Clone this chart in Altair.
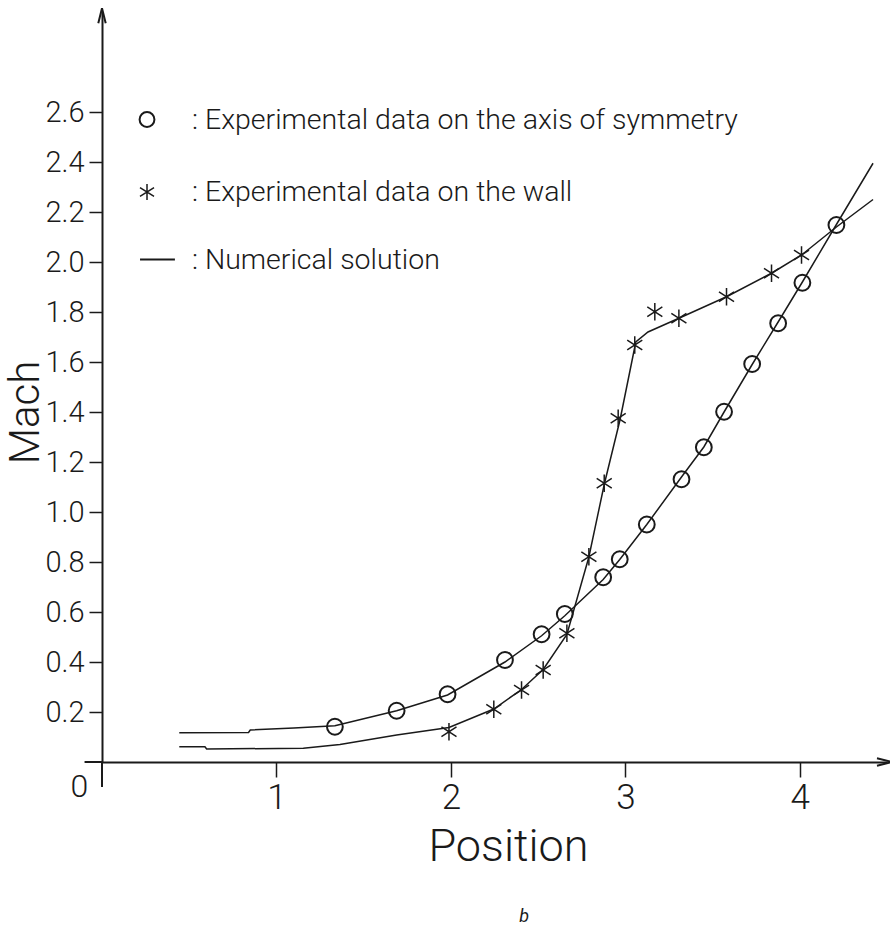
import altair as alt
import pandas as pd

# ---- data ----
axis_x = [1.335, 1.689, 1.981, 2.31, 2.52, 2.653, 2.873, 2.968, 3.123, 3.322, 3.45, 3.566, 3.727, 3.876, 4.015, 4.21]
axis_y = [0.141, 0.205, 0.271, 0.408, 0.511, 0.592, 0.739, 0.811, 0.95, 1.131, 1.259, 1.401, 1.592, 1.755, 1.917, 2.148]

wall_x = [1.989, 2.246, 2.405, 2.529, 2.665, 2.791, 2.879, 2.959, 3.054, 3.169, 3.307, 3.58, 3.838, 4.01]
wall_y = [0.121, 0.211, 0.288, 0.368, 0.515, 0.821, 1.115, 1.375, 1.668, 1.801, 1.775, 1.861, 1.955, 2.028]

num_axis_x = [0.443, 0.84, 0.85, 1.10, 1.335, 1.689, 1.981, 2.31, 2.52, 2.653, 2.873, 2.968, 3.123, 3.322, 3.45, 3.566, 3.727, 3.876, 4.015, 4.21, 4.42]
num_axis_y = [0.117, 0.118, 0.128, 0.136, 0.145, 0.205, 0.268, 0.40, 0.505, 0.585, 0.73, 0.81, 0.95, 1.14, 1.26, 1.40, 1.59, 1.76, 1.92, 2.15, 2.395]

num_wall_x = [0.443, 0.59, 0.60, 1.154, 1.364, 1.689, 1.989, 2.246, 2.405, 2.529, 2.665, 2.791, 2.879, 2.97, 3.06, 3.13, 3.307, 3.58, 3.838, 4.01, 4.21, 4.42]
num_wall_y = [0.061, 0.061, 0.052, 0.055, 0.07, 0.108, 0.138, 0.212, 0.29, 0.37, 0.51, 0.82, 1.11, 1.37, 1.68, 1.72, 1.775, 1.861, 1.955, 2.028, 2.14, 2.25]

x_ticks = [1, 2, 3, 4]
y_ticks = [0.2, 0.4, 0.6, 0.8, 1.0, 1.2, 1.4, 1.6, 1.8, 2.0, 2.2, 2.4, 2.6]

legend_labels = [": Experimental data on the axis of symmetry",
                 ": Experimental data on the wall",
                 ": Numerical solution"]
legend_rows_y = [2.57, 2.28, 2.01]

FONT = "Roboto, Liberation Sans, sans-serif"
INK = "#1a1a1a"

# ---- tables ----
df_axis = pd.DataFrame({"x": axis_x, "y": axis_y})
df_wall = pd.DataFrame({"x": wall_x, "y": wall_y})
df_num = pd.concat([
    pd.DataFrame({"x": num_axis_x, "y": num_axis_y, "s": "axis", "o": range(len(num_axis_x))}),
    pd.DataFrame({"x": num_wall_x, "y": num_wall_y, "s": "wall", "o": range(len(num_wall_x))}),
])
df_leg_text = pd.DataFrame({"x": [0.516] * 3, "y": legend_rows_y, "label": legend_labels})
df_leg_circle = pd.DataFrame({"x": [0.258], "y": [legend_rows_y[0]]})
df_leg_star = pd.DataFrame({"x": [0.258], "y": [legend_rows_y[1]]})
df_leg_line = pd.DataFrame({"x": [0.218], "x2": [0.418], "y": [legend_rows_y[2]]})
df_origin = pd.DataFrame({"x": [-0.13], "y": [-0.1], "label": ["0"]})
df_b = pd.DataFrame({"x": [2.42], "y": [-0.62], "label": ["b"]})
df_yext = pd.DataFrame({"x": [0.0], "y": [-0.1], "y2": [0.0]})
df_xext = pd.DataFrame({"x": [-0.1], "x2": [0.0], "y": [0.0]})
df_arrow_up = pd.DataFrame({"x": [0.0], "y": [2.985]})
df_arrow_right = pd.DataFrame({"x": [4.485], "y": [0.0]})

xscale = alt.Scale(domain=[0, 4.5], nice=False, zero=False)
yscale = alt.Scale(domain=[0, 3.0], nice=False, zero=False)

X = alt.X("x:Q", scale=xscale, axis=alt.Axis(
    values=x_ticks, format="d", title="Position", grid=False,
    tickSize=15, tickWidth=1.5, tickColor=INK,
    domainColor=INK, domainWidth=2,
    labelFont=FONT, labelFontSize=35, labelFontWeight=300, labelColor=INK, labelPadding=3,
    titleFont=FONT, titleFontSize=45, titleFontWeight=300, titleColor=INK,
    titleX=406, titleY=98, titleAlign="center", titleBaseline="alphabetic"))
Y = alt.Y("y:Q", scale=yscale, axis=alt.Axis(
    values=y_ticks, format=".1f", title="Mach", grid=False,
    tickSize=13, tickWidth=1.5, tickColor=INK,
    domainColor=INK, domainWidth=2,
    labelFont=FONT, labelFontSize=29, labelFontWeight=300, labelColor=INK, labelPadding=5,
    titleFont=FONT, titleFontSize=42, titleFontWeight=300, titleColor=INK,
    titleAngle=270, titleX=-77, titleY=400, titleAlign="center", titleBaseline="middle"))

STAR = "M0,-1L0,1M-0.87,-0.55L0.87,0.55M-0.87,0.55L0.87,-0.55"

lines = alt.Chart(df_num).mark_line(color=INK, strokeWidth=1.5).encode(
    x=X, y=Y, detail="s:N", order="o:Q")
circles = alt.Chart(df_axis).mark_point(shape="circle", filled=False, size=250,
                                        strokeWidth=2, color=INK, opacity=1).encode(x=X, y=Y)
stars = alt.Chart(df_wall).mark_point(shape=STAR, filled=False, size=300,
                                      strokeWidth=1.5, color=INK, opacity=1).encode(x=X, y=Y)

leg_c = alt.Chart(df_leg_circle).mark_point(shape="circle", filled=False, size=220,
                                            strokeWidth=2, color=INK, opacity=1).encode(x=X, y=Y)
leg_s = alt.Chart(df_leg_star).mark_point(shape=STAR, filled=False, size=260,
                                          strokeWidth=1.5, color=INK, opacity=1).encode(x=X, y=Y)
leg_l = alt.Chart(df_leg_line).mark_rule(color=INK, strokeWidth=1.8).encode(x=X, x2="x2:Q", y=Y)
leg_t = alt.Chart(df_leg_text).mark_text(align="left", baseline="middle", font=FONT,
                                         fontSize=28.5, fontWeight=300, color=INK).encode(x=X, y=Y, text="label:N")

origin = alt.Chart(df_origin).mark_text(align="center", baseline="middle", font=FONT,
                                        fontSize=32, fontWeight=300, color=INK).encode(x=X, y=Y, text="label:N")
blabel = alt.Chart(df_b).mark_text(align="center", baseline="middle", font=FONT,
                                   fontSize=18, fontStyle="italic", color=INK).encode(x=X, y=Y, text="label:N")

yext = alt.Chart(df_yext).mark_rule(color=INK, strokeWidth=2).encode(x=X, y=Y, y2="y2:Q")
xext = alt.Chart(df_xext).mark_rule(color=INK, strokeWidth=2).encode(x=X, x2="x2:Q", y=Y)
arrow_up = alt.Chart(df_arrow_up).mark_point(shape="M-0.5,1L0,-1L0.5,1", filled=False, size=220,
                                             strokeWidth=2, color=INK, opacity=1).encode(x=X, y=Y)
arrow_right = alt.Chart(df_arrow_right).mark_point(shape="M-1,-0.5L1,0L-1,0.5", filled=False, size=220,
                                                   strokeWidth=2, color=INK, opacity=1).encode(x=X, y=Y)

chart = alt.layer(
    lines, circles, stars, leg_c, leg_s, leg_l, leg_t, origin, blabel,
    yext, xext, arrow_up, arrow_right
).properties(
    width=785, height=750,
    autosize=alt.AutoSizeParams(type="none"),
    padding={"left": 102, "top": 12, "right": 3, "bottom": 178},
    background="white",
).configure_view(stroke=None)

chart.save("out.html", embed_options={"renderer": "svg", "actions": False})
